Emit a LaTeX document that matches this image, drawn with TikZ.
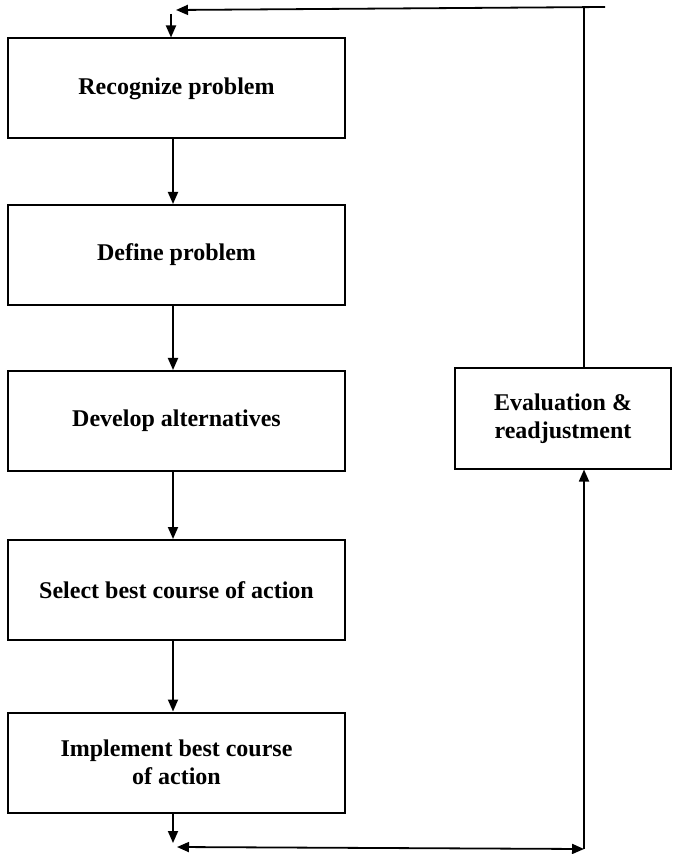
\documentclass[tikz,border=0pt]{standalone}
\usepackage{fontspec}
\setmainfont{Liberation Serif}
\usetikzlibrary{arrows.meta}
\tikzset{
  box/.style={draw, line width=1pt, minimum width=168.5pt, minimum height=50pt, inner sep=0pt, align=center, font=\fontsize{12}{14}\selectfont\bfseries},
  conn/.style={line width=0.9pt},
  arr/.style={conn, -{Triangle[length=6pt, width=5pt]}},
  arrboth/.style={conn, {Triangle[length=6pt, width=5pt]}-{Triangle[length=6pt, width=5pt]}}
}
\begin{document}
\begin{tikzpicture}[x=0.5pt, y=-0.5pt]
\useasboundingbox (0,0) rectangle (675,854);
\node[box] (b1) at (176.5,88.5) {Recognize problem};
\node[box] (b2) at (176.5,255) {Define problem};
\node[box] (b3) at (176.5,421) {Develop alternatives};
\node[box] (b4) at (176.5,590) {Select best course of action};
\node[box] (b5) at (176.5,762.5) {Implement best course\\of action};
\node[box, minimum width=108pt] (rb) at (563,418.5) {Evaluation \&\\readjustment};
\coordinate (ax) at (173,0);
\coordinate (rx) at (584,0);
\draw[arr] (b1.south -| ax) -- (b2.north -| ax);
\draw[arr] (b2.south -| ax) -- (b3.north -| ax);
\draw[arr] (b3.south -| ax) -- (b4.north -| ax);
\draw[arr] (b4.south -| ax) -- (b5.north -| ax);
% top feedback
\coordinate (tr) at (584,7);
\coordinate (te) at (605,7);
\coordinate (tl) at (176,10);
\coordinate (dl) at (171,14);
\draw[conn] (rb.north -| rx) -- (tr);
\draw[arr] (te) -- (tl);
\draw[arr] (dl) -- (b1.north -| dl);
% bottom
\coordinate (bd) at (173,843);
\coordinate (bl) at (177,847);
\coordinate (br) at (584,849);
\draw[arr] (b5.south -| ax) -- (bd);
\draw[arrboth] (bl) -- (br);
\draw[arr] (br) -- (rb.south -| rx);
\end{tikzpicture}
\end{document}
